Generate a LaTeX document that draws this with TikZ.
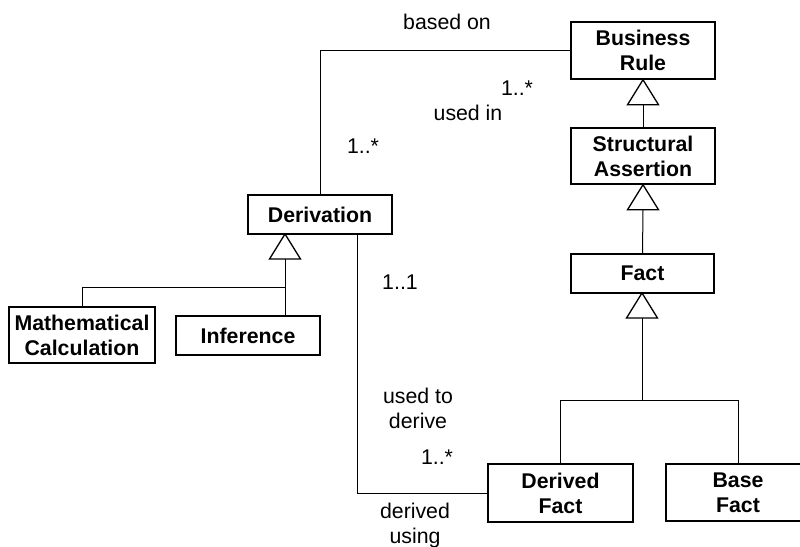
\documentclass[tikz,border=0pt]{standalone}
\usepackage{fontspec}
\setmainfont{Liberation Sans}
\begin{document}
\begin{tikzpicture}[x=1pt,y=-1pt,
  cls/.style={draw, line width=1.5pt, fill=white, align=center, inner sep=0pt,
    font=\fontsize{21.3}{25}\selectfont\bfseries},
  lbl/.style={align=center, inner sep=0pt, font=\fontsize{21.3}{25}\selectfont},
  assoc/.style={line width=1pt},
  gentri/.style={line width=1.3pt, fill=white, line join=miter}]
\useasboundingbox (0,0) rectangle (800,546);

% classes
\node[cls, minimum width=144pt, minimum height=57pt] (rule)  at (643,50.5)  {Business\\Rule};
\node[cls, minimum width=144pt, minimum height=56pt] (sa)    at (643,156)   {Structural\\Assertion};
\node[cls, minimum width=143pt, minimum height=39pt] (fact)  at (642.5,273.5) {Fact};
\node[cls, minimum width=144pt, minimum height=39pt] (deriv) at (320,214.5) {Derivation};
\node[cls, minimum width=146pt, minimum height=56pt] (math)  at (82,335)    {Mathematical\\Calculation};
\node[cls, minimum width=144pt, minimum height=39pt] (inf)   at (248,335.5) {Inference};
\node[cls, minimum width=145pt, minimum height=58pt] (dfact) at (560.5,493) {Derived\\Fact};
\node[cls, minimum width=144pt, minimum height=57pt] (bfact) at (738,492.5) {Base\\Fact};

% generalization triangles: apex on the parent, base 25pt below
\coordinate (ruletip)  at (rule.south);
\coordinate (satip)    at (sa.south);
\coordinate (facttip)  at (642,293);
\coordinate (derivtip) at (285,234);
\foreach \t in {ruletip,satip,facttip,derivtip}
  \coordinate (\t-base) at ([yshift=-25pt]\t);

% generalization lines
\draw[assoc] (sa.north) -- (ruletip-base);
\draw[assoc] (fact.north) -- (satip-base);
\coordinate (fbar) at (642,400);
\draw[assoc] (dfact.north) |- (bfact.north |- fbar) -- (bfact.north);
\draw[assoc] (fbar) -- (facttip-base);
\coordinate (dbar) at (285,287);
\draw[assoc] (math.north) |- (dbar);
\draw[assoc] (inf.north -| dbar) -- (derivtip-base);

\foreach \t in {ruletip,satip,facttip,derivtip}
  \draw[gentri] (\t) -- ++(-15.5,25) -- ++(31,0) -- cycle;

% associations
\draw[assoc] (deriv.north) |- (rule.west);
\draw[assoc] ([xshift=37pt]deriv.south) |- (dfact.west);

% association labels
\node[lbl] (lbased)  at (447,22)  {based on};
\node[lbl] (lm1)     at (517,88)  {1..*};
\node[lbl] (lused)   at (468,113) {used in};
\node[lbl] (lm2)     at (363,146) {1..*};
\node[lbl] (lm3)     at (400,282) {1..1};
\node[lbl] (lderive) at (418,408) {used to\\derive};
\node[lbl] (lm4)     at (437,457) {1..*};
\node[lbl] (lusing)  at (415,525) {derived\\using};
\end{tikzpicture}
\end{document}
